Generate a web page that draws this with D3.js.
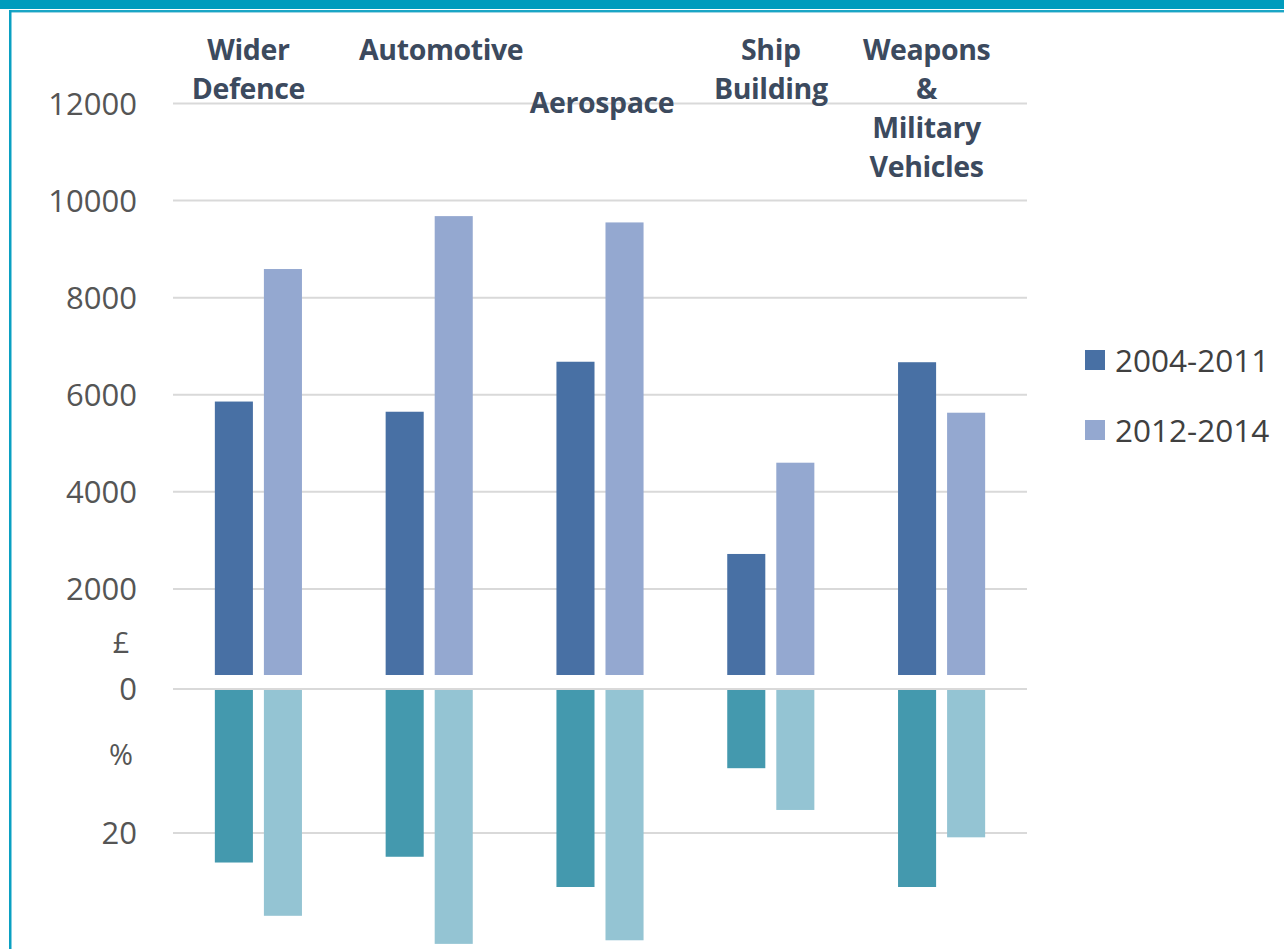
<!DOCTYPE html>
<html><head><meta charset="utf-8">
<script src="https://cdn.jsdelivr.net/npm/d3@7/dist/d3.min.js"></script>
<style>
html,body{margin:0;padding:0;background:#fff;}
svg{display:block;}
</style></head>
<body>
<svg id="chart" width="1284" height="949"></svg>
<script>
// ---- data ----
const categories = ["Wider Defence", "Automotive", "Aerospace", "Ship Building", "Weapons & Military Vehicles"];
const series = ["2004-2011", "2012-2014"];
const valuesGBP2004 = [5860, 5650, 6680, 2720, 6670];
const valuesGBP2012 = [8590, 9680, 9550, 4600, 5630];
const valuesPct2004 = [24.1, 23.3, 27.5, 11.0, 27.5];
const valuesPct2012 = [31.5, 35.4, 34.9, 16.8, 20.6];
const gbpTicks = [2000, 4000, 6000, 8000, 10000, 12000];
const pctTicks = [0, 20];

// ---- layout (not data) ----
const labelLines = [["Wider", "Defence"], ["Automotive"], ["Aerospace"], ["Ship", "Building"], ["Weapons", "&", "Military", "Vehicles"]];
const labelDx = [-10, 12, 2, 0, -15];
const labelTop = [50, 50, 103, 50, 50];

const svg = d3.select("#chart");
const W = 1284, H = 949;

// frame
svg.append("rect").attr("x", 0).attr("y", 0).attr("width", W).attr("height", 9).attr("fill", "#009cbd");
svg.append("rect").attr("x", 9).attr("y", 10).attr("width", W - 9).attr("height", 2).attr("fill", "#1aa6c6");
svg.append("rect").attr("x", 9).attr("y", 12).attr("width", W - 9).attr("height", 1).attr("fill", "#9fd6e4");
svg.append("rect").attr("x", 9).attr("y", 10).attr("width", 2.5).attr("height", H - 10).attr("fill", "#0aa0c2");

const x0 = d3.scaleBand().domain(categories).range([173, 1027]).paddingInner(0.49).paddingOuter(0.245);
const x1 = d3.scaleBand().domain(series).range([0, x0.bandwidth()]).paddingInner(0.224).paddingOuter(0);
const yGBP = d3.scaleLinear().domain([0, 12000]).range([686, 103.5]);
const yPct = d3.scaleLinear().domain([0, 20]).range([689, 833]);

const grid = "#d9d9d9";
// gridlines
svg.append("g").selectAll("line").data(gbpTicks).join("line")
  .attr("x1", 173).attr("x2", 1027)
  .attr("y1", d => yGBP(d)).attr("y2", d => yGBP(d))
  .attr("stroke", grid).attr("stroke-width", 2);
svg.append("g").selectAll("line").data(pctTicks).join("line")
  .attr("x1", 173).attr("x2", 1027)
  .attr("y1", d => yPct(d)).attr("y2", d => yPct(d))
  .attr("stroke", grid).attr("stroke-width", 2);

// axes labels
const tickFont = "'Open Sans', sans-serif";
const axG = svg.append("g").attr("transform", "translate(137,0)")
  .call(d3.axisLeft(yGBP).tickValues(gbpTicks).tickSize(0).tickPadding(0).tickFormat(d3.format("d")));
const axP = svg.append("g").attr("transform", "translate(137,0)")
  .call(d3.axisLeft(yPct).tickValues(pctTicks).tickSize(0).tickPadding(0).tickFormat(d3.format("d")));
[axG, axP].forEach(a => {
  a.select(".domain").remove();
  a.selectAll("text").attr("font-family", tickFont).attr("font-size", 31).attr("fill", "#555555").attr("dy", "0.35em");
});
svg.append("text").attr("x", 121).attr("y", yGBP(880)).attr("dy", "0.35em").attr("text-anchor", "middle")
  .attr("font-family", tickFont).attr("font-size", 29).attr("fill", "#555555").text("£");
svg.append("text").attr("x", 121).attr("y", yPct(9.2)).attr("dy", "0.35em").attr("text-anchor", "middle")
  .attr("font-family", tickFont).attr("font-size", 29).attr("fill", "#555555").text("%");

// bars
const colGBP = {"2004-2011": "#4870a4", "2012-2014": "#94a8d0"};
const colPct = {"2004-2011": "#4499ae", "2012-2014": "#94c4d3"};
const gbpRows = categories.map((c, i) => ({c, v: [valuesGBP2004[i], valuesGBP2012[i]]}));
const pctRows = categories.map((c, i) => ({c, v: [valuesPct2004[i], valuesPct2012[i]]}));
const posBase = yGBP(0) - 11;

svg.append("g").selectAll("g").data(gbpRows).join("g")
  .attr("transform", d => `translate(${x0(d.c)},0)`)
  .selectAll("rect").data(d => series.map((s, j) => ({s, v: d.v[j]}))).join("rect")
  .attr("x", d => x1(d.s)).attr("width", x1.bandwidth())
  .attr("y", d => yGBP(d.v)).attr("height", d => posBase - yGBP(d.v))
  .attr("fill", d => colGBP[d.s]);

svg.append("g").selectAll("g").data(pctRows).join("g")
  .attr("transform", d => `translate(${x0(d.c)},0)`)
  .selectAll("rect").data(d => series.map((s, j) => ({s, v: d.v[j]}))).join("rect")
  .attr("x", d => x1(d.s)).attr("width", x1.bandwidth())
  .attr("y", yPct(0) + 1).attr("height", d => yPct(d.v) - yPct(0) - 1)
  .attr("fill", d => colPct[d.s]);

// category labels
categories.forEach((c, i) => {
  const t = svg.append("text").attr("text-anchor", "middle")
    .attr("font-family", "'Open Sans', sans-serif").attr("font-weight", 700)
    .attr("font-size", 28.5).attr("fill", "#3c4a5e").attr("letter-spacing", "-0.4");
  labelLines[i].forEach((ln, k) => {
    t.append("tspan").attr("x", x0(c) + x0.bandwidth() / 2 + labelDx[i])
      .attr("y", labelTop[i] + k * 39).attr("dy", "0.35em").text(ln);
  });
});

// legend
const lg = svg.append("g").selectAll("g").data(series).join("g")
  .attr("transform", (d, i) => `translate(1085,${350 + i * 70})`);
lg.append("rect").attr("width", 20).attr("height", 20).attr("fill", d => colGBP[d]);
lg.append("text").attr("x", 30).attr("y", 11).attr("dy", "0.35em")
  .attr("font-family", tickFont).attr("font-size", 31.5).attr("fill", "#404040").text(d => d);
</script>
</body></html>
